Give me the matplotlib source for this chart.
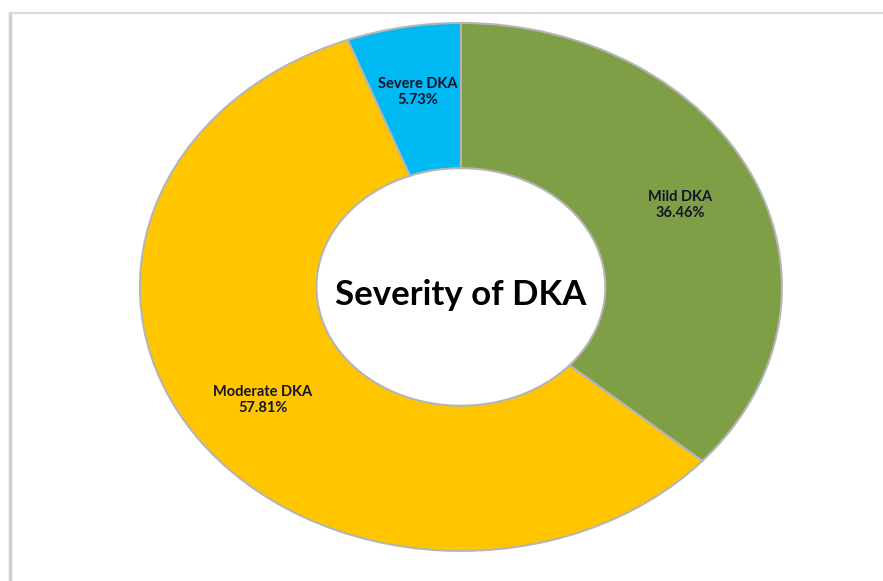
import matplotlib.pyplot as plt
from matplotlib.lines import Line2D

## Data ##
categories = ['Mild DKA', 'Moderate DKA', 'Severe DKA']
shares = [36.46, 57.81, 5.73]
colors = ['#7F9F47', '#FFC600', '#00B8F2']
title = 'Severity of DKA'

plt.rcParams['font.family'] = ['Lato', 'DejaVu Sans']

## Set Up Figure ##
fig = plt.figure(figsize=(8.83, 5.81), dpi=100)
ax = fig.add_axes([0, 0, 1, 1])

labels = ['%s\n%.2f%%' % (c, s) for c, s in zip(categories, shares)]
wedges, texts = ax.pie(shares, labels=labels, colors=colors, startangle=90,
                       counterclock=False, labeldistance=0.75,
                       wedgeprops=dict(width=0.55, edgecolor='#B5B5B5', linewidth=1.5),
                       textprops=dict(fontsize=10.5, fontweight='bold', color='#14142a'))
for t in texts:
    t.set_ha('center')
    t.set_va('center')
    t.set_multialignment('center')

ax.text(0, -0.03, title, ha='center', va='center', fontsize=25, fontweight='bold', color='black')

# stretch the donut into an ellipse like the original
ax.set_aspect('auto')
ax.set_xlim(-1.436, 1.315)
ax.set_ylim(-1.114, 1.087)
ax.axis('off')

# light frame on the left and top
fig.add_artist(Line2D([0.011, 0.011], [0, 0.978], color='#CFCFCF', lw=2.5))
fig.add_artist(Line2D([0.011, 1.0], [0.978, 0.978], color='#D9D9D9', lw=1.5))

fig.savefig('out.png', dpi=100)
